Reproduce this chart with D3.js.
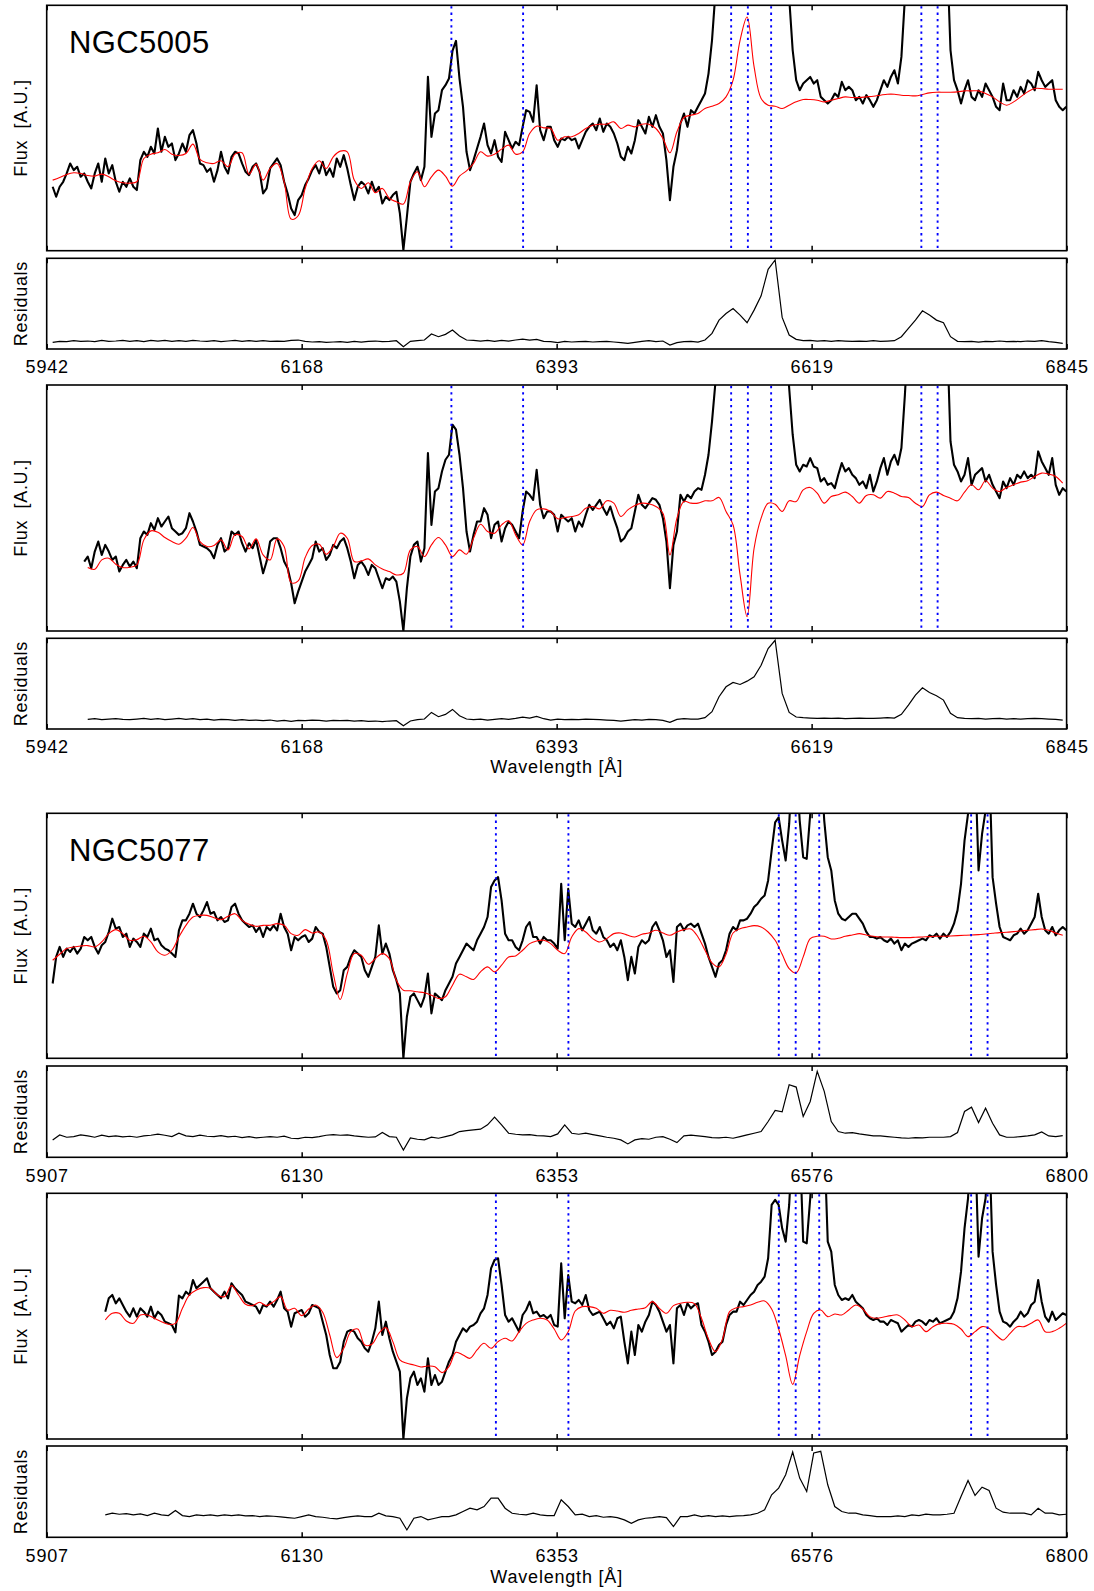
<!DOCTYPE html>
<html>
<head>
<meta charset="utf-8">
<script src="https://cdn.jsdelivr.net/npm/d3@7"></script>
<style>
body { margin: 0; background: #fff; }
svg text { font-family: "Liberation Sans", Arial, sans-serif; }
</style>
</head>
<body>
<script>
var W = 1094, H = 1591;

// x axis ticks
var ticks5005 = [5942, 6167.75, 6393.5, 6619.25, 6845];
var tickLabels5005 = ["5942", "6168", "6393", "6619", "6845"];
var ticks5077 = [5907, 6130.25, 6353.5, 6576.75, 6800];
var tickLabels5077 = ["5907", "6130", "6353", "6576", "6800"];

// emission lines marked: [OI] 6300,6364, [NII] 6548, Ha, [NII] 6583, [SII] 6716,6731
var lineWaves = [6300.3, 6363.8, 6548.0, 6562.8, 6583.4, 6716.4, 6730.8];

// sampling grids (start wavelength, step in A)
var grid5005 = { start: 5947.28, step: 3.1052 };
var grid5077 = { start: 5912.22, step: 3.0708 };

// ---- NGC5005, fit 1 ----
var flux5005a = [192,162,192,207,232,262,242,252,222,232,
207,187,232,262,207,277,232,257,207,177,
207,192,217,192,182,272,297,282,312,292,
367,297,342,312,322,272,292,322,297,347,
362,322,262,257,237,247,207,242,297,252,
232,282,297,292,262,237,227,252,262,237,
172,187,247,262,277,257,207,172,127,107,
152,167,197,217,242,257,232,267,227,247,
222,277,252,287,247,197,152,192,207,197,
172,207,177,192,142,162,152,167,177,112,
2,102,207,232,252,212,252,522,342,412,
422,482,497,517,600,630,517,432,297,242,
272,307,342,382,317,292,332,282,267,357,
332,307,327,317,372,422,417,387,497,362,
332,372,
372,332,312,337,332,342,332,337,307,332,
357,372,382,362,397,357,382,372,352,322,
282,272,312,292,332,392,372,352,402,372,
407,372,352,272,152,252,302,382,412,372,
422,412,432,452,472,532,632,780,900,900,
900,900,900,900,900,900,900,900,900,900,
900,900,900,900,900,900,900,900,760,602,
512,482,502,512,522,502,512,462,452,442,
452,472,462,507,482,492,482,452,462,442,
467,452,432,452,482,512,492,522,542,502,
582,760,900,900,900,900,900,900,900,900,
900,900,900,900,602,512,482,442,482,512,
462,452,482,462,502,482,462,432,422,502,
452,452,482,462,492,472,512,502,482,537,
512,492,502,512,452,432,422,432];

var model5005a = [212,220,229,234,232,226,224,230,222,210,
204,203,207,277,290,294,304,290,286,292,
320,274,264,262,270,252,290,294,230,260,
212,247,262,207,95,105,187,247,270,247,
282,299,297,212,187,204,174,187,157,147,
140,207,237,192,222,242,224,194,224,240,
262,297,284,290,305,317,290,297,352,374,
369,
367,332,342,342,352,367,377,380,380,387,
367,377,372,380,380,367,337,294,357,400,
407,412,427,434,442,462,512,632,702,552,
457,437,434,427,437,447,454,454,452,447,
452,457,462,460,460,462,464,467,470,470,
467,466,465,469,474,476,476,476,477,480,
480,480,472,462,447,437,447,462,477,487,
487,485,485,485];

var resid5005a = [20,23,22,25,23,24,22,26,23,24,
26,23,25,22,26,24,26,23,25,23,
26,24,23,25,22,24,26,23,25,23,
25,23,24,23,26,27,23,21,22,20,
21,22,20,23,21,23,24,22,23,25,
7,23,25,27,45,37,44,57,39,27,
26,24,26,23,26,24,27,30,27,29,
23,
22,19,23,21,22,23,21,22,23,21,
19,17,20,23,25,22,24,12,19,22,
23,21,27,47,87,107,122,102,79,117,
160,240,268,95,42,29,25,26,24,25,
23,25,24,23,24,23,25,23,24,25,
37,62,87,115,102,87,79,37,23,22,
23,21,23,22,24,22,23,22,24,23,
25,22,20,17];

// ---- NGC5005, fit 2 ----
var flux5005b = [208,223,188,238,268,228,258,238,213,223,
178,198,213,193,208,188,278,298,288,323,
303,338,313,328,343,308,298,288,293,308,
353,328,298,258,253,248,238,218,258,278,
238,248,298,288,298,263,238,263,248,273,
223,173,208,268,278,278,248,208,188,143,
83,118,148,178,198,218,268,238,248,213,
228,258,248,268,278,248,208,158,198,208,
193,168,198,188,158,128,158,153,163,148,
88,0,128,223,258,268,208,248,533,318,
418,428,478,513,528,618,603,528,428,298,
238,288,328,328,368,348,278,318,328,268,
308,328,318,298,278,358,418,408,393,483,
378,338,358,
358,348,298,348,338,328,338,298,328,313,
348,378,363,378,393,368,348,373,338,308,
268,278,298,308,358,408,378,368,383,398,
393,378,338,268,128,258,298,408,388,408,
398,418,428,423,468,528,628,748,900,900,
900,900,900,900,900,900,900,900,900,900,
900,900,900,900,900,900,900,900,728,588,
498,478,498,493,518,493,488,448,458,438,
443,428,468,503,478,488,468,458,438,448,
428,468,418,448,488,518,468,508,528,498,
548,708,900,900,900,900,900,900,900,900,
900,900,900,900,568,498,478,448,468,518,
438,468,478,488,448,468,438,418,398,448,
428,458,438,468,458,478,458,468,458,538,
508,488,468,518,438,408,428,418];

var model5005b = [190,185,213,218,200,190,191,198,273,300,
296,280,268,260,278,310,268,253,256,273,
243,288,283,246,276,228,213,276,253,145,
150,220,256,260,230,253,293,278,208,210,
216,198,186,178,168,173,243,253,223,258,
280,258,223,243,230,278,320,298,293,318,
330,288,258,328,363,366,
358,336,340,343,348,368,373,366,390,383,
343,363,376,383,381,373,353,228,338,388,
383,383,390,390,400,358,318,168,43,248,
338,383,380,358,390,388,423,430,413,383,
403,408,416,403,383,406,408,398,418,413,
403,400,383,373,408,416,406,398,390,416,
438,423,450,428,418,430,438,446,450,463,
473,470,463,443];

var resid5005b = [29,31,28,30,31,29,28,30,32,29,
31,28,30,32,29,31,28,30,27,29,
28,26,28,26,27,25,27,24,26,23,
26,25,27,26,24,26,25,26,24,25,
23,24,22,24,25,10,24,28,30,50,
37,44,59,40,30,28,30,27,29,31,
29,32,36,33,38,31,
27,30,28,29,28,30,29,28,27,26,
24,26,28,27,29,28,26,20,29,31,
30,30,34,52,97,127,140,134,144,157,
192,242,267,107,50,36,34,33,32,33,
32,33,31,32,33,32,32,33,34,33,
44,72,102,124,110,100,87,47,34,32,
31,32,30,31,32,30,31,30,31,32,
31,30,29,27];

// ---- NGC5077, fit 1 ----
var flux5077a = [225,305,335,305,330,320,335,315,330,365,
355,365,335,315,340,350,380,420,390,395,
365,375,335,360,350,335,375,365,390,355,
360,340,330,325,315,305,385,415,415,435,
465,435,425,445,470,435,440,415,425,410,
415,455,465,435,415,405,395,400,380,395,
365,395,385,400,385,435,395,375,325,365,
355,365,370,350,360,395,380,375,335,275,
215,195,205,265,275,305,325,315,305,265,
245,275,305,400,315,345,315,265,235,195,
0,125,185,195,175,155,185,255,135,195,
185,175,205,225,245,285,305,325,345,335,
325,355,375,395,425,515,535,545,475,375,
355,355,335,325,355,395,410,365,365,345,
365,355,
355,345,330,525,355,510,405,395,415,385,
405,425,385,375,395,365,355,335,345,325,
355,305,235,305,255,335,355,345,355,395,
410,385,355,305,325,230,395,405,385,400,
405,395,405,375,345,305,275,245,285,295,
325,375,395,385,415,415,420,435,455,465,
480,490,535,625,710,725,655,595,705,900,
900,715,605,600,735,900,900,900,715,605,
565,475,435,420,415,425,435,435,420,405,
380,365,365,360,365,355,350,360,345,355,
325,345,335,345,350,355,360,355,370,365,
375,360,375,365,380,405,445,525,655,735,
900,900,565,675,745,900,545,465,395,365,
360,355,370,375,390,375,385,405,425,495,
425,385,375,395,370,385,395,385];

var model5077a = [295,313,330,335,338,339,335,350,375,387,
375,355,357,367,350,320,310,325,365,400,
425,430,430,423,417,427,435,415,403,397,
400,400,405,400,375,370,387,377,380,355,
255,177,255,315,310,283,300,315,300,235,
205,203,200,197,190,180,185,220,253,245,
237,260,275,260,280,305,308,325,345,353,
355,
345,325,315,365,390,380,360,350,360,375,
377,370,365,373,377,385,377,370,380,387,
389,365,325,287,275,313,377,390,395,399,
395,380,355,313,270,257,305,360,367,367,
359,361,367,371,375,371,367,365,365,364,
363,363,364,365,366,367,367,368,369,370,
371,372,374,376,378,379,381,383,385,387,
389,385,377,370];

var resid5077a = [52,67,60,62,67,64,60,66,62,64,
61,63,60,64,66,69,66,62,72,64,
62,66,63,62,65,61,63,59,62,58,
60,62,60,63,57,56,60,59,62,66,
68,66,67,64,62,60,61,74,62,60,
22,58,54,52,60,57,62,67,77,80,
82,84,97,120,97,72,69,67,68,65,
64,
62,70,97,72,69,72,68,64,60,57,
52,40,52,56,54,60,62,54,44,64,
66,64,62,59,58,60,57,62,67,72,
77,107,140,136,217,210,122,167,257,197,
107,77,72,74,70,67,64,64,62,60,
58,57,59,58,60,60,60,62,74,137,
150,104,147,102,67,60,60,62,64,67,
76,64,62,65];

// ---- NGC5077, fit 2 ----
var flux5077b = [382,422,432,407,422,402,382,367,392,367,
392,382,367,397,362,382,372,352,347,342,
320,430,422,442,432,477,452,462,472,482,
452,442,432,422,442,422,467,452,442,432,
412,407,402,397,377,402,397,412,397,417,
442,392,382,337,377,382,387,367,377,402,
397,392,352,312,252,212,212,232,292,322,
327,322,302,292,272,262,292,332,412,312,
352,302,262,232,202,0,122,182,202,162,
182,142,242,162,192,162,172,202,232,252,
292,312,332,322,337,342,352,377,392,432,
512,537,542,462,372,352,362,342,322,372,
387,412,377,382,367,372,362,
372,342,337,527,362,492,412,407,417,402,
432,387,372,377,382,362,342,352,332,362,
367,292,227,322,252,342,322,352,372,412,
402,382,352,322,342,227,392,402,372,407,
392,402,407,342,322,292,252,262,282,292,
342,372,382,382,412,402,417,432,442,462,
472,487,542,702,717,702,632,592,702,900,
900,900,592,587,722,900,900,900,900,592,
562,462,432,417,422,417,432,412,402,392,
372,362,357,362,352,352,342,357,352,347,
322,332,342,337,352,357,352,342,357,352,
362,347,352,357,362,382,422,502,632,722,
900,900,547,662,722,900,562,462,382,352,
347,337,352,362,382,367,377,402,412,477,
412,367,352,382,357,367,377,372];

var model5077b = [357,377,377,354,347,372,372,362,352,344,
347,392,432,447,454,452,432,427,460,432,
404,400,410,400,412,427,387,392,370,390,
402,380,312,244,272,322,330,282,284,317,
334,292,237,227,222,216,219,217,199,217,
260,252,242,267,287,272,292,302,294,322,
347,357,362,357,
330,297,322,384,397,397,392,377,386,384,
380,386,390,394,412,392,377,400,407,410,
406,362,300,262,300,382,394,397,402,410,
414,390,330,250,164,250,322,377,387,367,
375,372,387,402,390,367,362,366,370,372,
357,337,342,322,337,346,347,344,330,307,
322,337,332,312,297,317,337,337,347,357,
322,322,332,347];

var resid5077b = [67,72,69,71,67,70,65,72,67,65,
80,65,62,67,65,67,64,67,65,67,
64,65,62,64,63,61,59,57,62,67,
62,60,57,55,59,62,64,62,62,72,
64,62,57,22,57,62,52,57,62,62,
67,77,87,82,92,117,117,87,72,69,
67,72,67,65,
65,112,92,67,69,62,65,60,62,59,
52,42,52,57,59,62,59,32,62,62,
67,62,65,62,64,62,64,65,67,72,
82,127,147,187,255,177,137,252,257,157,
92,77,72,72,67,65,62,62,62,64,
62,67,65,69,67,67,69,72,122,170,
125,150,140,87,75,72,72,72,67,87,
72,72,67,69];

// ---------------- layout ----------------
var left = 46.7, right = 1066.6;
var fluxMax = 737, residMax = 273;
var rows = [
  { fluxTop: 5.3, fluxBottom: 250.7, resTop: 258.3, resBottom: 349 },
  { fluxTop: 385, fluxBottom: 631, resTop: 638.3, resBottom: 729 },
  { fluxTop: 813.3, fluxBottom: 1058.3, resTop: 1066, resBottom: 1157.3 },
  { fluxTop: 1193.3, fluxBottom: 1439, resTop: 1446, resBottom: 1537.3 }
];

var fits = [
  { name: "NGC5005", domain: [5942, 6845], ticks: ticks5005, labels: tickLabels5005, grid: grid5005,
    flux: flux5005a, model: model5005a, resid: resid5005a, fluxOff: 0, modelOff: 0, titleY: 52.5 },
  { domain: [5942, 6845], ticks: ticks5005, labels: tickLabels5005, grid: grid5005,
    flux: flux5005b, model: model5005b, resid: resid5005b, fluxOff: 9, modelOff: 10, xlabelY: 773 },
  { name: "NGC5077", domain: [5907, 6800], ticks: ticks5077, labels: tickLabels5077, grid: grid5077,
    flux: flux5077a, model: model5077a, resid: resid5077a, fluxOff: 0, modelOff: 0, titleY: 861 },
  { domain: [5907, 6800], ticks: ticks5077, labels: tickLabels5077, grid: grid5077,
    flux: flux5077b, model: model5077b, resid: resid5077b, fluxOff: 15, modelOff: 15, xlabelY: 1583 }
];

var svg = d3.select("body").append("svg")
  .attr("width", W).attr("height", H);
var defs = svg.append("defs");

function panel(id, x, top, bottom, ticks, labels, withLabels) {
  defs.append("clipPath").attr("id", id)
    .append("rect").attr("x", left).attr("y", top)
    .attr("width", right - left).attr("height", bottom - top);

  var g = svg.append("g");
  // bottom ticks (pointing up) + optional labels
  var axB = d3.axisBottom(x).tickValues(ticks).tickSizeInner(-5).tickSizeOuter(0)
    .tickPadding(11.6)
    .tickFormat(function(d, i) { return withLabels ? labels[i] : ""; });
  var gb = svg.append("g").attr("transform", "translate(0," + bottom + ")").call(axB);
  // top ticks (pointing down)
  var axT = d3.axisTop(x).tickValues(ticks).tickSizeInner(-5).tickSizeOuter(0)
    .tickFormat("");
  var gt = svg.append("g").attr("transform", "translate(0," + top + ")").call(axT);
  [gb, gt].forEach(function(a) {
    a.select(".domain").remove();
    a.selectAll("line").attr("stroke", "#000").attr("stroke-width", 1.5);
    a.selectAll("text").attr("font-size", 18).attr("fill", "#000")
      .attr("font-family", "Liberation Sans, Arial, sans-serif")
      .attr("letter-spacing", "0.8px");
  });
  return g;
}

function frame(top, bottom) {
  svg.append("rect").attr("x", left).attr("y", top)
    .attr("width", right - left).attr("height", bottom - top)
    .attr("fill", "none").attr("stroke", "#000").attr("stroke-width", 1.6);
}

function yLabel(text, top, bottom) {
  svg.append("text")
    .attr("transform", "translate(26.5," + ((top + bottom) / 2) + ") rotate(-90)")
    .attr("text-anchor", "middle")
    .attr("font-size", 18)
    .attr("letter-spacing", "0.7px")
    .style("white-space", "pre")
    .text(text);
}

fits.forEach(function(f, k) {
  var r = rows[k];
  var x = d3.scaleLinear().domain(f.domain).range([left, right]);
  var yF = d3.scaleLinear().domain([0, fluxMax]).range([r.fluxBottom, r.fluxTop]);
  var yR = d3.scaleLinear().domain([0, residMax]).range([r.resBottom, r.resTop]);

  var fine = function(i) { return f.grid.start + i * f.grid.step; };
  var fluxPts = f.flux.map(function(v, i) { return [fine(f.fluxOff + i), v]; });
  var modelPts = f.model.map(function(v, i) { return [fine(f.modelOff + 2 * i), v]; });
  var residPts = f.resid.map(function(v, i) { return [fine(f.modelOff + 2 * i), v]; });

  // flux panel
  var gF = panel("clipF" + k, x, r.fluxTop, r.fluxBottom, f.ticks, f.labels, false);
  var cF = gF.append("g").attr("clip-path", "url(#clipF" + k + ")");
  var lineF = d3.line().x(function(d) { return x(d[0]); }).y(function(d) { return yF(d[1]); });
  cF.append("path").datum(fluxPts).attr("d", lineF)
    .attr("fill", "none").attr("stroke", "#000").attr("stroke-width", 2.1)
    .attr("stroke-linejoin", "round");
  cF.append("path").datum(modelPts).attr("d", lineF.curve(d3.curveCatmullRom.alpha(0.5)))
    .attr("fill", "none").attr("stroke", "#ff0000").attr("stroke-width", 1.1);
  cF.selectAll("line.em").data(lineWaves).enter().append("line")
    .attr("class", "em")
    .attr("x1", function(d) { return x(d); }).attr("x2", function(d) { return x(d); })
    .attr("y1", r.fluxTop + 1).attr("y2", r.fluxBottom)
    .attr("stroke", "#0000ff").attr("stroke-width", 1.9)
    .attr("stroke-dasharray", "2.3,4");
  frame(r.fluxTop, r.fluxBottom);
  yLabel("Flux  [A.U.]", r.fluxTop, r.fluxBottom);

  // residual panel
  var gR = panel("clipR" + k, x, r.resTop, r.resBottom, f.ticks, f.labels, true);
  var cR = gR.append("g").attr("clip-path", "url(#clipR" + k + ")");
  cR.append("path").datum(residPts)
    .attr("d", d3.line().x(function(d) { return x(d[0]); }).y(function(d) { return yR(d[1]); }))
    .attr("fill", "none").attr("stroke", "#000").attr("stroke-width", 1.2);
  frame(r.resTop, r.resBottom);
  yLabel("Residuals", r.resTop, r.resBottom);

  if (f.name) {
    svg.append("text").attr("x", 69).attr("y", f.titleY)
      .attr("font-size", 31).attr("letter-spacing", "0.4px").text(f.name);
  }
  if (f.xlabelY) {
    svg.append("text").attr("x", (left + right) / 2).attr("y", f.xlabelY)
      .attr("text-anchor", "middle").attr("font-size", 18)
      .attr("letter-spacing", "0.8px").text("Wavelength [Å]");
  }
});
</script>
</body>
</html>
